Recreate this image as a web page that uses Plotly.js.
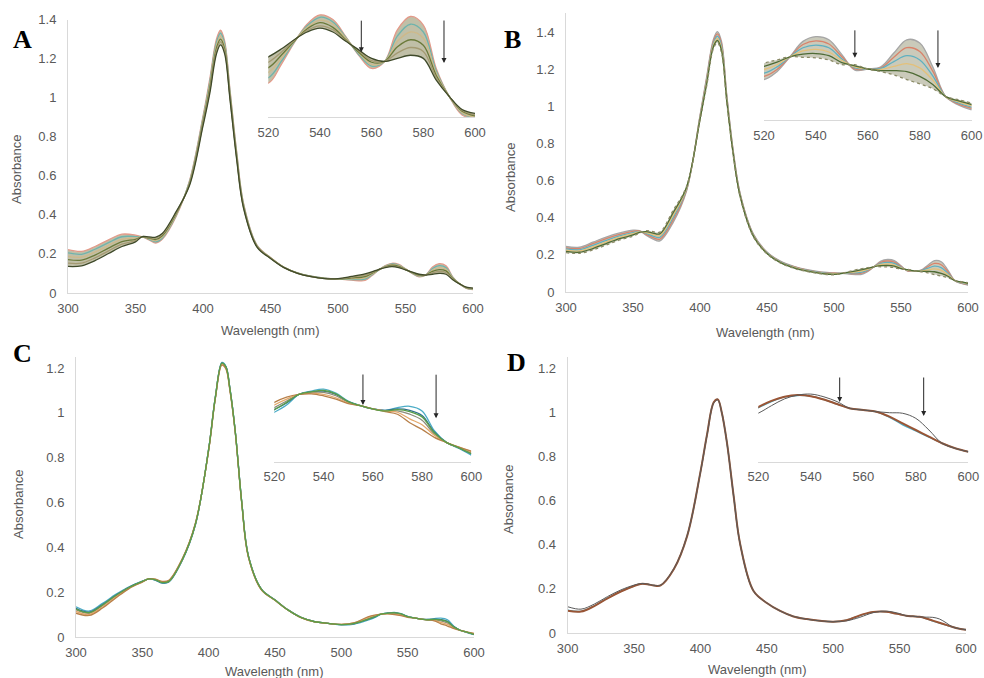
<!DOCTYPE html>
<html><head><meta charset="utf-8">
<script src="https://cdn.plot.ly/plotly-3.0.1.min.js"></script>
<style>html,body{margin:0;padding:0;background:#fff}#chart{width:984px;height:678px}</style>
</head><body><div id="chart"></div>
<script>
// ---------------- DATA ----------------
const wavelength = [300,310,320,330,340,350,355,360,365,370,380,390,400,405,410,413,416,420,425,430,440,450,460,470,480,490,500,510,520,525,530,535,540,545,550,555,560,565,570,575,580,585,590,595,600];

const A_s1 = [.222,.213,.238,.272,.301,.296,.287,.272,.256,.276,.390,.575,.905,1.095,1.300,1.345,1.290,1.040,.720,.460,.245,.182,.132,.103,.086,.076,.071,.066,.064,.088,.116,.140,.152,.146,.124,.100,.083,.092,.133,.150,.139,.083,.047,.023,.018];
const A_s2 = [.205,.198,.224,.258,.288,.289,.287,.275,.262,.282,.395,.570,.895,1.080,1.285,1.330,1.277,1.030,.712,.455,.243,.181,.132,.103,.086,.076,.071,.069,.071,.092,.117,.138,.149,.143,.123,.101,.086,.092,.125,.140,.130,.080,.047,.025,.019];
const A_s3 = [.188,.183,.209,.244,.275,.282,.288,.278,.268,.288,.400,.565,.885,1.065,1.270,1.315,1.264,1.020,.704,.450,.241,.180,.131,.102,.085,.075,.072,.073,.078,.096,.118,.136,.145,.140,.122,.103,.088,.092,.118,.130,.122,.077,.047,.026,.020];
const A_s4 = [.171,.168,.194,.230,.263,.275,.288,.281,.274,.294,.405,.560,.875,1.050,1.255,1.300,1.251,1.010,.696,.445,.239,.179,.131,.102,.085,.075,.072,.077,.084,.100,.118,.134,.142,.136,.120,.104,.091,.092,.111,.120,.113,.074,.047,.028,.022];
const A_s5 = [.153,.153,.180,.216,.250,.268,.289,.284,.280,.300,.410,.555,.865,1.035,1.240,1.285,1.238,1.000,.688,.440,.237,.178,.130,.101,.084,.074,.073,.081,.091,.104,.119,.132,.138,.133,.119,.106,.093,.092,.103,.110,.105,.071,.047,.029,.023];
const A_s6 = [.136,.139,.166,.202,.238,.262,.289,.287,.286,.306,.415,.550,.855,1.020,1.225,1.270,1.225,.990,.680,.435,.235,.177,.130,.101,.084,.074,.074,.085,.098,.108,.120,.130,.135,.130,.118,.107,.096,.092,.096,.100,.096,.068,.047,.030,.025];

const B_s1 = [.245,.241,.268,.296,.318,.333,.330,.305,.285,.275,.375,.545,.950,1.160,1.360,1.402,1.350,1.060,.750,.530,.310,.215,.166,.138,.120,.108,.103,.098,.094,.109,.137,.166,.175,.169,.141,.112,.114,.118,.144,.169,.163,.118,.062,.046,.037];
const B_s2 = [.238,.234,.260,.287,.310,.327,.328,.310,.293,.284,.388,.550,.945,1.150,1.350,1.390,1.338,1.052,.745,.526,.307,.213,.164,.136,.118,.106,.101,.100,.100,.113,.137,.160,.167,.161,.137,.114,.114,.116,.136,.154,.147,.110,.062,.048,.040];
const B_s3 = [.232,.227,.251,.278,.302,.320,.325,.315,.301,.294,.401,.555,.940,1.140,1.340,1.378,1.326,1.044,.740,.522,.304,.211,.162,.134,.116,.104,.099,.102,.106,.118,.137,.154,.159,.154,.133,.116,.114,.115,.128,.139,.131,.101,.062,.050,.042];
const B_s4 = [.225,.221,.243,.270,.295,.314,.323,.320,.309,.303,.414,.560,.935,1.130,1.330,1.366,1.314,1.036,.735,.518,.301,.209,.160,.132,.114,.102,.097,.104,.113,.122,.137,.148,.151,.146,.130,.118,.114,.113,.119,.124,.116,.093,.062,.052,.045];
const B_s5 = [.219,.214,.234,.261,.287,.307,.321,.325,.317,.313,.427,.565,.930,1.120,1.320,1.354,1.302,1.028,.730,.514,.298,.207,.158,.130,.112,.100,.095,.106,.119,.127,.137,.142,.143,.139,.126,.120,.114,.111,.111,.109,.100,.085,.062,.054,.047];
const B_s6 = [.212,.208,.226,.253,.280,.301,.318,.330,.325,.322,.440,.570,.925,1.110,1.310,1.342,1.290,1.020,.725,.510,.295,.205,.156,.128,.110,.098,.093,.108,.125,.131,.137,.136,.135,.131,.122,.122,.114,.109,.103,.094,.086,.077,.062,.056,.050];

const C_s1 = [.135,.116,.150,.190,.224,.249,.259,.253,.240,.245,.340,.500,.840,1.070,1.225,1.208,1.112,.922,.600,.362,.212,.166,.121,.087,.069,.061,.054,.058,.075,.086,.102,.107,.110,.104,.092,.085,.080,.078,.082,.084,.077,.047,.029,.020,.010];
const C_s2 = [.128,.111,.145,.186,.222,.248,.259,.254,.242,.247,.342,.502,.838,1.068,1.222,1.205,1.109,.920,.598,.360,.211,.165,.120,.086,.068,.061,.055,.060,.079,.089,.102,.106,.107,.102,.091,.085,.080,.078,.080,.078,.070,.045,.029,.021,.012];
const C_s3 = [.121,.106,.140,.182,.220,.247,.259,.256,.244,.249,.344,.504,.836,1.066,1.219,1.202,1.106,.918,.596,.358,.210,.165,.120,.086,.068,.061,.055,.061,.082,.092,.102,.105,.105,.100,.090,.085,.080,.077,.077,.072,.063,.042,.029,.021,.013];
const C_s4 = [.114,.101,.134,.178,.218,.246,.260,.257,.246,.251,.346,.506,.834,1.064,1.216,1.199,1.103,.916,.594,.356,.209,.164,.119,.085,.067,.061,.056,.063,.086,.095,.102,.104,.102,.097,.089,.085,.080,.077,.075,.065,.056,.040,.029,.022,.015];
const C_s5 = [.106,.096,.129,.174,.216,.245,.260,.258,.248,.253,.348,.508,.832,1.062,1.213,1.196,1.100,.914,.592,.354,.208,.164,.119,.085,.067,.061,.056,.064,.090,.098,.102,.103,.100,.095,.088,.085,.080,.076,.072,.059,.049,.037,.029,.022,.016];
const C_s6 = [.125,.109,.143,.185,.221,.248,.259,.255,.243,.248,.343,.503,.838,1.068,1.222,1.205,1.109,.920,.598,.360,.211,.165,.120,.086,.068,.061,.055,.061,.079,.090,.102,.106,.108,.103,.091,.085,.080,.077,.079,.076,.068,.044,.029,.021,.012];

const D_teal  = [.103,.098,.123,.158,.189,.213,.222,.221,.215,.216,.290,.440,.730,.900,1.045,1.058,1.000,.860,.620,.400,.190,.136,.100,.075,.063,.055,.051,.058,.079,.088,.095,.097,.096,.091,.0845,.078,.0757,.0732,.065,.054,.045,.036,.027,.0196,.0146];
const D_brown = [.101,.097,.122,.157,.188,.213,.222,.221,.215,.216,.290,.440,.730,.900,1.045,1.058,1.000,.860,.620,.400,.190,.136,.100,.075,.063,.055,.051,.058,.080,.089,.095,.0975,.096,.091,.0845,.078,.0757,.0732,.066,.056,.0464,.0366,.027,.0196,.0146];
const D_gray  = [.119,.108,.131,.165,.195,.217,.224,.222,.216,.217,.292,.442,.728,.898,1.042,1.055,.998,.858,.618,.398,.190,.136,.100,.075,.063,.055,.051,.055,.071,.082,.092,.0975,.099,.095,.088,.078,.0757,.0732,.0717,.0709,.0635,.0464,.027,.0196,.0146];

const panelLetters = ['A','B','C','D'];
const xTitle = 'Wavelength (nm)';
const yTitle = 'Absorbance';

// ---------------- LAYOUT HELPERS ----------------
const W = 984, H = 678;
const fx = p => p / W, fy = p => 1 - p / H;
const tickFont = {family: 'Liberation Sans, Arial, sans-serif', size: 13, color: '#595959'};

const panels = [
  {series:[A_s1,A_s2,A_s3,A_s4,A_s5,A_s6], colors:['#e39a8a','#6fb3ac','#cdb98a','#6b7a3a','#a49a72','#3f4a2a'], fill:'rgba(140,138,95,0.55)', dash:[],
   main:{x:[68,473], y:[293,19.5], yr:[0,1.4]}, inset:{x:[268.3,475], y:[117.3,10.3], yr:[0.02,0.158]},
   arrows:[[556,0.104,-33],[588,0.090,-44]], letter:[22,40], xt:[270.5,330], yt:[16,170], w:1.3},
  {series:[B_s1,B_s2,B_s3,B_s4,B_s5,B_s6], colors:['#a6a6a6','#d9826a','#5fb0c0','#e3c07a','#4e6b35','#8a8a66'], fill:'rgba(150,150,118,0.5)', dash:[5],
   main:{x:[566,968], y:[292,13.4], yr:[0,1.5]}, inset:{x:[764,971.7], y:[120,10], yr:[0.018,0.225]},
   arrows:[[555,0.135,-29],[587,0.116,-39]], letter:[512,40], xt:[765,332], yt:[510,178], w:1.3},
  {series:[C_s1,C_s2,C_s3,C_s4,C_s5,C_s6], colors:['#4bacc6','#31708f','#8c8c7a','#e4a86a','#b8804a','#5a9e48'], fill:null, dash:[],
   main:{x:[76,474], y:[637,356.8], yr:[0,1.25]}, inset:{x:[274.3,471.3], y:[461.7,369.4], yr:[0,0.14]},
   arrows:[[556,0.086,-32],[585.7,0.066,-45]], letter:[22,353], xt:[274,671], yt:[18,505], w:1.3},
  {series:[D_teal,D_brown,D_gray], colors:['#4bacc6','#9a5535','#5a5a5a'], fill:null, dash:[], widths:[1.4,2,1],
   main:{x:[567.7,966], y:[633,357], yr:[0,1.25]}, inset:{x:[758.3,968.3], y:[461.7,369.5], yr:[0,0.135]},
   arrows:[[551,0.0874,-26],[583,0.0669,-40]], letter:[516,362], xt:[757,669], yt:[508,500], w:1.3}
];

const traces = [];
const layout = {
  width: W, height: H, margin:{l:0,r:0,t:0,b:0},
  paper_bgcolor:'#fff', plot_bgcolor:'rgba(0,0,0,0)', showlegend:false,
  font: tickFont, annotations: []
};

panels.forEach((p, i) => {
  const mi = i + 1, ii = i + 5;
  const mx = 'x' + mi, my = 'y' + mi, ix = 'x' + ii, iy = 'y' + ii;
  layout['xaxis' + mi] = {domain:[fx(p.main.x[0]), fx(p.main.x[1])], anchor:my, range:[300,600], dtick:50,
    showline:true, linecolor:'#d9d9d9', linewidth:1, showgrid:false, zeroline:false,
    ticks:'outside', ticklen:3, tickcolor:'rgba(0,0,0,0)', tickfont:tickFont};
  layout['yaxis' + mi] = {domain:[fy(p.main.y[0]), fy(p.main.y[1])], anchor:mx, range:p.main.yr, dtick:0.2,
    showline:true, linecolor:'#d9d9d9', linewidth:1, showgrid:false, zeroline:false,
    ticks:'outside', ticklen:8, tickcolor:'rgba(0,0,0,0)', tickfont:tickFont};
  layout['xaxis' + ii] = {domain:[fx(p.inset.x[0]), fx(p.inset.x[1])], anchor:iy, range:[520,600], dtick:20,
    showline:true, linecolor:'#d9d9d9', linewidth:1, showgrid:false, zeroline:false,
    ticks:'outside', ticklen:3, tickcolor:'rgba(0,0,0,0)', tickfont:tickFont};
  layout['yaxis' + ii] = {domain:[fy(p.inset.y[0]), fy(p.inset.y[1])], anchor:ix, range:p.inset.yr,
    visible:false, showgrid:false, zeroline:false};

  [[mx,my],[ix,iy]].forEach(([xa,ya]) => {
    p.series.forEach((s, k) => {
      const tr = {x: wavelength, y: s, xaxis: xa, yaxis: ya, type:'scatter', mode:'lines',
        line:{color:p.colors[k], width: p.widths ? p.widths[k] : p.w, shape:'spline', smoothing:1},
        hoverinfo:'skip'};
      if (p.dash.length && k === p.series.length - 1) tr.line.dash = 'dot';
      if (p.fill && k > 0) { tr.fill = 'tonexty'; tr.fillcolor = p.fill; }
      traces.push(tr);
    });
  });

  p.arrows.forEach(a => layout.annotations.push({xref:ix, yref:iy, x:a[0], y:a[1], ax:0, ay:a[2],
    showarrow:true, arrowhead:2, arrowsize:1, arrowwidth:1, arrowcolor:'#262626', text:''}));

  layout.annotations.push({xref:'paper', yref:'paper', x:fx(p.letter[0]), y:fy(p.letter[1]),
    xanchor:'center', yanchor:'middle', showarrow:false, text:'<b>' + panelLetters[i] + '</b>',
    font:{family:'Liberation Serif, Times New Roman, serif', size:26, color:'#000'}});
  layout.annotations.push({xref:'paper', yref:'paper', x:fx(p.xt[0]), y:fy(p.xt[1]),
    xanchor:'center', yanchor:'middle', showarrow:false, text:xTitle, font:tickFont});
  layout.annotations.push({xref:'paper', yref:'paper', x:fx(p.yt[0]), y:fy(p.yt[1]),
    xanchor:'center', yanchor:'middle', showarrow:false, text:yTitle, textangle:-90, font:tickFont});
});

Plotly.newPlot('chart', traces, layout, {staticPlot:true, displayModeBar:false});
</script>
</body></html>
